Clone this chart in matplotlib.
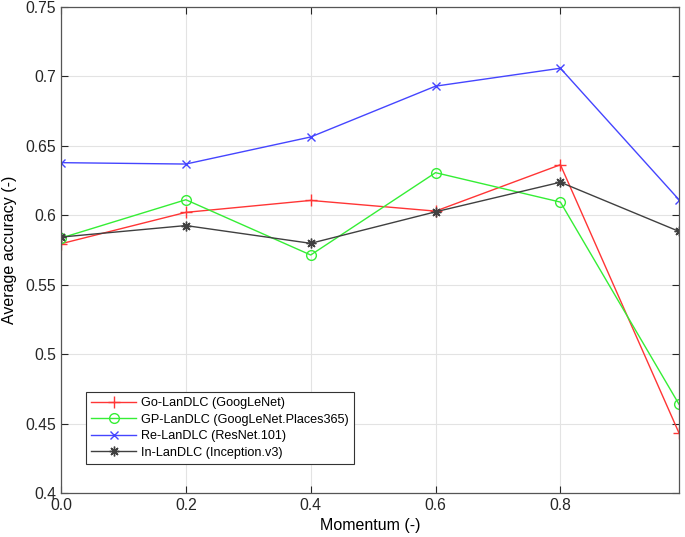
import matplotlib
matplotlib.use("Agg")
import matplotlib.pyplot as plt

plt.rcParams["font.family"] = ["Liberation Sans", "DejaVu Sans"]

momentum = [0.0, 0.2, 0.4, 0.6, 0.8, 0.99]
go_landlc = [0.5795, 0.6021, 0.6107, 0.6030, 0.6364, 0.4432]
gp_landlc = [0.5836, 0.6112, 0.5714, 0.6307, 0.6095, 0.4639]
re_landlc = [0.6379, 0.6369, 0.6564, 0.6930, 0.7059, 0.6112]
in_landlc = [0.5843, 0.5926, 0.5798, 0.6025, 0.6238, 0.5884]

labels = [
    "Go-LanDLC (GoogLeNet)",
    "GP-LanDLC (GoogLeNet.Places365)",
    "Re-LanDLC (ResNet.101)",
    "In-LanDLC (Inception.v3)",
]
xtick_vals = [0.0, 0.2, 0.4, 0.6, 0.8]
xtick_labels = ["0.0", "0.2", "0.4", "0.6", "0.8"]
ytick_vals = [0.4, 0.45, 0.5, 0.55, 0.6, 0.65, 0.7, 0.75]
ytick_labels = ["0.4", "0.45", "0.5", "0.55", "0.6", "0.65", "0.7", "0.75"]

fig = plt.figure(figsize=(6.85, 5.37), dpi=100)
ax = fig.add_axes([61 / 685, 1 - 493 / 537, 618 / 685, 486 / 537])

ax.plot(momentum, go_landlc, color="#ff3535", marker="+", markersize=8, lw=1.0,
        mew=1.0, label=labels[0])
ax.plot(momentum, gp_landlc, color="#35ee35", marker="o", markersize=7, lw=1.0,
        mfc="none", mew=1.0, label=labels[1])
ax.plot(momentum, re_landlc, color="#4545ff", marker="x", markersize=6, lw=1.0,
        mew=1.0, label=labels[2])
ax.plot(momentum, in_landlc, color="#404040", marker=(8, 2, 0), markersize=7, lw=1.0,
        mew=1.0, label=labels[3])

ax.set_xlim(0, 0.99)
ax.set_ylim(0.4, 0.75)
ax.set_xticks(xtick_vals)
ax.set_xticklabels(xtick_labels)
ax.set_yticks(ytick_vals)
ax.set_yticklabels(ytick_labels)
ax.tick_params(direction="in", length=5, width=0.8, labelsize=11.3, colors="#262626",
               top=True, right=True)
ax.grid(True, color="#e3e3e3", lw=0.8)
ax.set_axisbelow(True)
for s in ax.spines.values():
    s.set_color("#555555")
    s.set_linewidth(0.9)

ax.set_xlabel("Momentum (-)", fontsize=11.5, labelpad=4)
ax.set_ylabel("Average accuracy (-)", fontsize=11.5, labelpad=6)

leg = ax.legend(loc="lower left", bbox_to_anchor=(0.04, 0.059), borderaxespad=0,
                fontsize=9.1, handlelength=3.5, handletextpad=0.4, fancybox=False,
                framealpha=1, edgecolor="#333333", borderpad=0.45, labelspacing=0.35)
leg.get_frame().set_linewidth(0.8)

fig.savefig("out.png", dpi=100)
